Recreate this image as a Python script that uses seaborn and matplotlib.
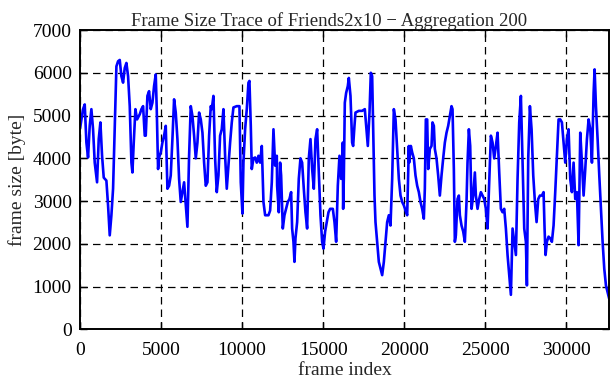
import numpy as np
import pandas as pd
import matplotlib
matplotlib.use("Agg")
import matplotlib.pyplot as plt
import seaborn as sns

# frame index / aggregated frame size [byte]
frame_index = [
    0, 186, 289, 392, 494, 597, 700, 803, 906, 1050, 1153, 1256, 1359, 1462,
    1626, 1729, 1832, 1935, 2038, 2141, 2244, 2347, 2450, 2552, 2655, 2758,
    2861, 2964, 3067, 3170, 3232, 3314, 3417, 3520, 3684, 3787, 3890, 3993,
    4054, 4157, 4260, 4363, 4466, 4568, 4671, 4733, 4815, 4877, 4980, 5083,
    5186, 5289, 5392, 5495, 5597, 5700, 5803, 5906, 6009, 6112, 6215, 6318,
    6421, 6524, 6626, 6729, 6832, 6935, 7038, 7141, 7244, 7347, 7450, 7553,
    7655, 7758, 7861, 7964, 8067,
    8128, 8231, 8334, 8437, 8540, 8642, 8745, 8848, 8951, 9054, 9157, 9260,
    9363, 9466, 9671, 9836, 9918, 10021, 10083, 10186, 10289, 10392, 10453,
    10536, 10597, 10700, 10803, 10906, 11009, 11112, 11215, 11318, 11421,
    11627, 11729, 11832, 11935, 12038, 12141,
    12161, 12264, 12346, 12408, 12511, 12614, 12716, 12819, 12922, 13025,
    13087, 13169, 13231, 13293, 13396, 13498, 13601, 13704, 13807, 13910,
    14013, 14116, 14219, 14322, 14425, 14527, 14630, 14733, 14836, 14939,
    15021, 15124, 15227, 15330, 15433, 15598, 15701, 15803, 15906, 16009,
    16112, 16215,
    16235, 16276, 16338, 16420, 16523, 16585, 16688, 16790, 16852, 16934,
    16996, 17202, 17408, 17572, 17655, 17758, 17861, 17943, 18025, 18087,
    18169, 18231, 18334, 18437, 18540, 18643, 18746, 18848, 18951, 19054,
    19157, 19260, 19363, 19466, 19569, 19672, 19775, 19878, 19981, 20083,
    20186, 20289,
    20309, 20412, 20494, 20597, 20700, 20803, 20906, 21008, 21111, 21214,
    21276, 21338, 21420, 21482, 21585, 21688, 21749, 21832, 21893, 21996,
    22099, 22202, 22305, 22408, 22511, 22614, 22717, 22820, 22922, 22984,
    23066, 23128, 23190, 23293, 23375, 23437, 23540, 23643, 23745, 23848,
    23910, 23993, 24075, 24157, 24260, 24363,
    24425, 24528, 24631, 24734, 24837, 24939, 25042, 25145, 25248, 25351,
    25454, 25557, 25660, 25763, 25866, 25968, 26071, 26174, 26277, 26380,
    26483, 26586, 26689, 26792, 26895, 26997, 27100, 27203, 27306, 27409,
    27512, 27574, 27656, 27759, 27862, 27965, 28068, 28171, 28274, 28376,
    28499, 28602, 28664, 28725, 28808, 28911, 29013, 29116, 29219, 29322,
    29425, 29528, 29631, 29734, 29837, 29940, 30043, 30145, 30248, 30351,
    30454, 30557, 30660, 30763, 30866, 30969, 31072, 31175, 31278, 31381,
    31484, 31587, 31690, 31751, 31834, 31937, 32040, 32142, 32245, 32348,
    32451, 32650,
]
frame_size = [
    4700, 5150, 5260, 4370, 4020, 4760, 5150, 4680, 3900, 3440, 4450, 4840, 4060, 3550,
    3480, 2900, 2200, 2670, 3290, 4680, 6150, 6270, 6300, 5920, 5770, 6110,
    6230, 5920, 5220, 3900, 3670, 4370, 5150, 4910, 5030, 5150, 5220, 4530,
    4530, 5460, 5570, 5150, 5300, 5690, 5960, 5150, 3750, 4020, 4140, 4370,
    4530, 4760, 3290, 3360, 3600, 4450, 5380, 5070, 4450, 3520, 2980, 3210,
    3440, 2900, 2400, 4060, 5220, 4990, 4530, 4000, 4370, 5070, 4910, 4600,
    3900, 3360, 3440, 4530, 5220,
    5150, 5460, 4000, 3210, 3600, 4530, 4680, 5150, 4060, 3290, 3830, 4370,
    4840, 5190, 5220, 5220, 3440, 2710, 3900, 4680, 5150, 5770, 5810,
    4760, 3750, 4000, 4020, 3900, 4060, 3900, 4290, 2980, 2670,
    2670, 2780, 3440, 4680, 3830, 4060,
    3360, 2740, 3900, 3600, 2360, 2670, 2820, 2980, 3050, 3210,
    2360, 2050, 1580, 2130, 2510, 3520, 4000, 3900, 3290, 2740,
    2360, 4000, 4450, 3750, 3290, 4450, 4680, 3670, 2670, 2050,
    1890, 2290, 2510, 2740, 2820, 2820, 2510, 2050, 3360, 4060,
    3520, 4370,
    2820, 3520, 5300, 5530, 5690, 5880, 5460, 4370, 4290, 4760,
    5070, 5110, 5110, 5150, 4760, 4290, 5070, 6000, 5920, 4680,
    3130, 2510, 2050, 1580, 1420, 1270, 1580, 2050, 2510, 2670,
    2430, 3520, 5150, 4910, 4220, 3520, 3130, 2980, 2900, 2780,
    2670, 4290,
    3900, 4290, 4140, 4000, 3600, 3360, 3210, 2980, 2820, 2590,
    3290, 4910, 4910, 3750, 4220, 4290, 4840, 4760, 4220, 4000,
    3600, 3130, 3600, 4000, 4370, 4600, 4760, 4990, 5220, 5150,
    3750, 2050, 2200, 3050, 3130, 2670, 2430, 2290, 2050, 2980,
    3900, 4680, 4290, 2820, 3130, 3670,
    3130, 2820, 3050, 3210, 3130, 3050, 2820, 2360, 3440, 4530,
    4370, 4000, 4290, 4600, 3670, 2820, 2740, 2820, 2360, 1740,
    1270, 810, 2360, 2050, 1740, 3520, 4840, 5460, 3900, 2360,
    2050, 1030, 4000, 5220, 4680, 3600, 2980, 2510, 3050, 3130,
    3130, 3210, 2360, 1740, 2050, 2170, 2130, 2050, 2430, 3210,
    4060, 4910, 4910, 4840, 4370, 3900, 4450, 4680, 3520, 3210,
    3900, 3050, 3210, 1970, 4600, 3900, 3130, 3750, 4450, 4910,
    4680, 3900, 5530, 6080, 5220, 4450, 3600, 2820, 2050, 1420,
    1030, 720,
]

x_ticks = [0, 5000, 10000, 15000, 20000, 25000, 30000]
y_ticks = [0, 1000, 2000, 3000, 4000, 5000, 6000, 7000]

df = pd.DataFrame({"frame": frame_index, "size": frame_size})

sns.set_style("ticks")
plt.rcParams["font.family"] = ["Liberation Serif", "DejaVu Serif"]

fig = plt.figure(figsize=(6.11, 3.80), dpi=100)
ax = fig.add_axes([0.131, 0.133, 0.866, 0.788])

sns.lineplot(data=df, x="frame", y="size", color="#0000ff", linewidth=1.9,
             sort=False, ax=ax)

ax.set_xlim(0, 32650)
ax.set_ylim(0, 7000)
ax.set_xticks(x_ticks)
ax.set_yticks(y_ticks)
ax.grid(True, color="black", linestyle=(0, (6, 4)), linewidth=0.9)
ax.tick_params(direction="in", length=5, width=1, top=True, right=True,
               labelsize=14, colors="black")
ax.tick_params(axis="x", pad=9)
ax.tick_params(axis="y", pad=6)
for s in ax.spines.values():
    s.set_linewidth(1.4)
    s.set_color("black")

# gnuplot-style title, sits a bit left of the axes centre
ax.set_title("Frame Size Trace of Friends2x10 \u2212 Aggregation 200",
             fontsize=13.5, pad=3, x=0.47)
ax.set_xlabel("frame index", fontsize=14, labelpad=2)
ax.set_ylabel("frame size [byte]", fontsize=14, labelpad=5)

fig.savefig("out.png", dpi=100)
